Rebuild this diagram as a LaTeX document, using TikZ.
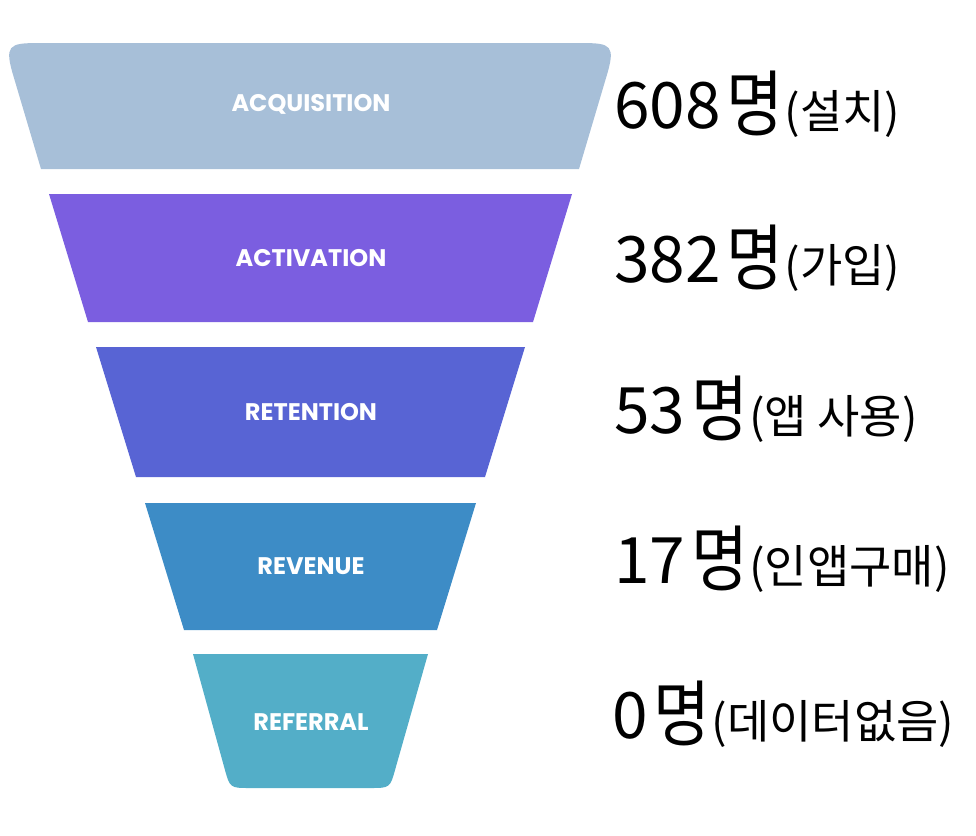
\documentclass[tikz,border=0pt]{standalone}
\usepackage{fontspec}
\usepackage{graphicx}
\setmainfont{Poppins}
\newfontfamily\kr{Noto Sans CJK KR}
\definecolor{cacq}{RGB}{167,191,216}
\definecolor{cact}{RGB}{123,94,224}
\definecolor{cret}{RGB}{88,100,212}
\definecolor{crev}{RGB}{61,140,198}
\definecolor{cref}{RGB}{83,174,200}
\tikzset{
  flabel/.style={text=white,font=\fontsize{24}{24}\selectfont\bfseries,inner sep=0pt},
  cnt/.style={anchor=base west,inner sep=0pt,text=black,font=\kr}
}
\newcommand{\cntline}[2]{{\fontsize{64}{64}\selectfont #1\hspace{6pt}}{\fontsize{72}{72}\selectfont\raisebox{-2pt}{\scalebox{0.86}[1]{명}}}\hspace{1pt}{\fontsize{46}{46}\selectfont #2}}
\begin{document}
\begin{tikzpicture}[x=1pt,y=-1pt]
\useasboundingbox (0,0) rectangle (976,835);
% funnel stages
\fill[cacq] (41,169) -- (14,78) .. controls (4,45) and (8,43) .. (40,43) -- (580,43) .. controls (612,43) and (616,45) .. (606,78) -- (579,169) -- cycle;
\fill[cact] (49,194) -- (572,194) -- (533,322) -- (88,322) -- cycle;
\fill[cret] (96,347) -- (525,347) -- (485,477) -- (136,477) -- cycle;
\fill[crev] (145,503) -- (476,503) -- (437,630) -- (184,630) -- cycle;
\fill[cref] (193,654) -- (428,654) -- (395.4,768.7) .. controls (390,788) .. (370,788) -- (250,788) .. controls (230,788) .. (224.6,768.7) -- cycle;
% labels
\node[flabel] (acq) at (311,104) {ACQUISITION};
\node[flabel] (act) at (311,258) {ACTIVATION};
\node[flabel] (ret) at (311,412) {RETENTION};
\node[flabel] (rev) at (311,566) {REVENUE};
\node[flabel] (ref) at (311,722) {REFERRAL};
% counts
\node[cnt] (n1) at (614,128) {\cntline{608}{(설치)}};
\node[cnt] (n2) at (614,282) {\cntline{382}{(가입)}};
\node[cnt] (n3) at (614,433) {\cntline{53}{(앱 사용)}};
\node[cnt] (n4) at (614,583) {\cntline{17}{(인앱구매)}};
\node[cnt] (n5) at (612,738) {\cntline{0}{(데이터없음)}};
\end{tikzpicture}
\end{document}
